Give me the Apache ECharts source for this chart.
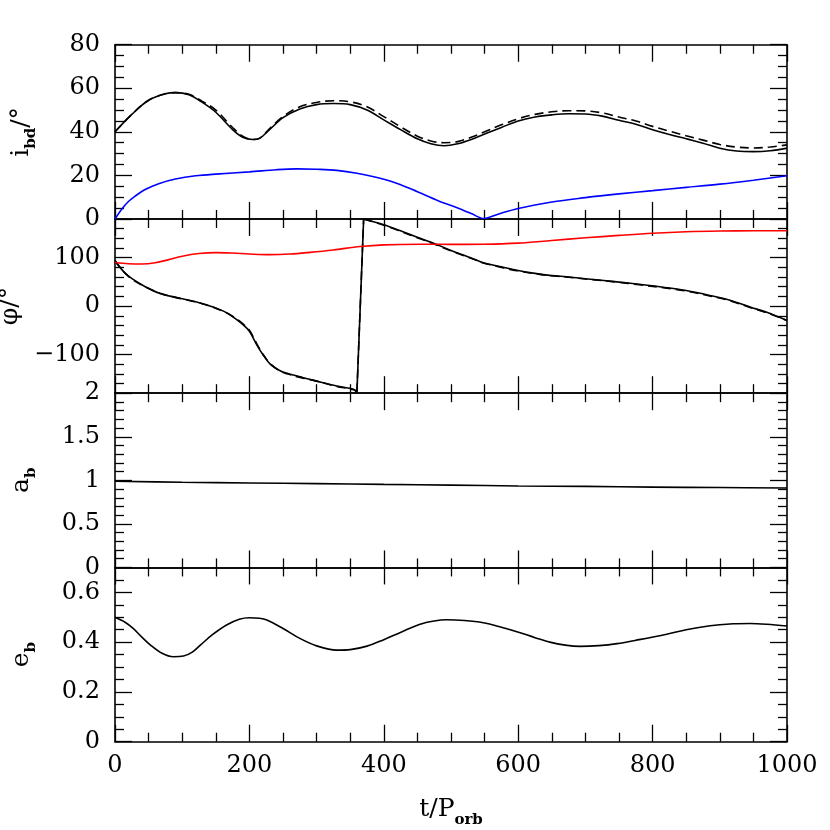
<!DOCTYPE html>
<html><head><meta charset="utf-8">
<script src="https://cdn.jsdelivr.net/npm/echarts@6/dist/echarts.min.js"></script>
<style>html,body{margin:0;padding:0;background:#fff}#c{width:830px;height:830px}</style>
</head><body><div id="c"></div>
<script>
// ---------- data ----------
const inclT      = [0,25,50,75,90,110,130,150,175,190,205,215,230,250,275,300,325,350,375,400,425,450,470,490,510,530,550,575,600,625,650,675,700,725,750,775,800,825,850,875,900,925,950,975,1000];
const inclSolid  = [40,48,54.5,57.5,58,57,53.5,49,41,37.5,36.5,37,41,46.5,50.5,52.5,53,52.5,50,45.5,41,36.8,34.5,33.6,34.5,36.5,39,42,45,46.8,47.8,48.3,48.2,47.2,45.3,43.5,41,38.8,36.8,34.8,32.5,31.2,30.9,31.3,32.5];
const inclDashed = [40,48,54.5,57.5,58,57.2,54,50,42,38,36.5,37,41.5,47,51.5,53.5,54.3,53.8,51.5,47,42.3,38,35.8,35,35.5,37.5,40,43.2,46,48,49.2,49.7,49.6,48.7,46.8,45,42.5,40.3,38.2,36.2,34.2,33,32.6,33,34];
const blueT      = [0,10,20,30,45,65,90,120,150,200,240,270,300,330,360,390,420,450,480,510,530,549,570,600,650,700,750,800,850,900,950,1000];
const blueIncl   = [0,4.5,8,10.5,13.5,16.2,18.3,19.8,20.6,21.6,22.6,23,22.8,22.3,21,19,16.3,12.5,8.5,5,2.5,0.2,2.2,4.8,7.8,9.8,11.5,13,14.5,16,17.8,19.8];

const redT       = [0,20,40,60,80,100,125,150,175,200,230,260,290,325,365,400,454,500,548,600,650,700,750,800,850,900,950,1000];
const redPhi     = [90,87.5,86.8,89.5,96,103,108.5,110.5,109.5,107.6,106.2,107.5,111,116,123,126.5,127.8,127.5,127.8,130,135.5,141,146,150.5,153.5,155,155.5,155.6];
const phiT       = [0,5,15,27,45,67,90,107,130,146,165,176,190,200,211,220,231,245,256,280,300,330,355,360,370,400,424,454,474,500,525,543,548,575,598,625,650,672,700,747,780,821,850,885,915,945,970,1000];
const phiSolid   = [92,84,68,55,40,26,18,13,5,-2,-13,-23,-38,-52,-80,-100,-120,-133,-139,-148,-155,-165,-172,-178,180,168,156,140,130,115,102,92,89.6,81,74,67.5,63,60.4,56.5,50,45,38,32,22,12,-2,-13,-30];
const phiDashed  = [95,85,68,54,40,26.5,18,12.5,5,-2.5,-13,-22,-36,-50,-78,-99,-119,-134,-140,-149,-155,-166,-173,-178,180,167,155,139,129,114,101,92,89,80,73,67,62.5,60,56,49.5,44,37,31,21,11,-3,-14,-30];

const abT        = [0,100,200,300,400,500,600,700,800,900,1000];
const abVal      = [0.99,0.978,0.97,0.962,0.953,0.945,0.935,0.93,0.922,0.917,0.912];

const ebT        = [0,15,27,40,52,70,87,102,115,127,145,166,185,200,215,226,250,275,300,330,350,375,400,424,454,475,493,520,548,575,598,625,647,670,692,720,747,780,821,850,871,900,920,945,970,1000];
const ebVal      = [0.50,0.48,0.455,0.42,0.39,0.355,0.341,0.344,0.36,0.388,0.43,0.469,0.492,0.498,0.496,0.489,0.455,0.415,0.385,0.368,0.37,0.384,0.41,0.438,0.472,0.485,0.49,0.487,0.478,0.46,0.442,0.418,0.40,0.388,0.383,0.386,0.394,0.41,0.432,0.45,0.46,0.47,0.474,0.475,0.472,0.465];

// ---------- ticks / labels ----------
const xMajor = [0,200,400,600,800,1000];
const xMinor = [50,100,150,250,300,350,450,500,550,650,700,750,850,900,950];
const inclMajor = [0,20,40,60,80];
const inclMinor = [5,10,15,25,30,35,45,50,55,65,70,75];
const phiMajor  = [-100,0,100];
const phiMinor  = [-160,-140,-120,-80,-60,-40,-20,20,40,60,80,120,140,160];
const abMajor   = [0,0.5,1,1.5,2];
const abMinor   = [0.1,0.2,0.3,0.4,0.6,0.7,0.8,0.9,1.1,1.2,1.3,1.4,1.6,1.7,1.8,1.9];
const ebMajor   = [0,0.2,0.4,0.6];
const ebMinor   = [0.05,0.1,0.15,0.25,0.3,0.35,0.45,0.5,0.55,0.65];

const FONT = 'DejaVu Serif';
const panels = [
  {min:0, max:80, major:inclMajor, minor:inclMinor, name:'{m|i}{s|bd}{m|/°}'},
  {min:-180, max:180, major:phiMajor, minor:phiMinor, name:'{m|φ/°}'},
  {min:0, max:2, major:abMajor, minor:abMinor, name:'{m|a}{s|b}'},
  {min:0, max:0.7, major:ebMajor, minor:ebMinor, name:'{m|e}{s|b}'}
];
const TOP = 44.7, H = 174.25;
const MAJ = 17, MIN = 9;
const rich = {
  m:{fontFamily:FONT, fontSize:25, lineHeight:36, color:'#000'},
  s:{fontFamily:FONT, fontSize:15, fontWeight:'bold', lineHeight:15, verticalAlign:'bottom', color:'#000'}
};
const fmtY = v => (v < 0 ? '\u2212' + (-v) : String(v));

const grids = [], xAxes = [], yAxes = [], series = [];
panels.forEach((p, g) => {
  grids.push({left:115, right:43, top:TOP + g*H, height:H, outerBoundsMode:'none', containLabel:false});
  const last = g === panels.length - 1;
  const mkX = (pos, vals, len, main) => ({
    type:'value', gridIndex:g, position:pos, min:0, max:1000,
    axisLine:{show:main, onZero:false, lineStyle:{color:'#000', width:1.6}},
    axisTick:{show:true, inside:true, length:len, customValues:vals, lineStyle:{color:'#000', width:1.3}},
    axisLabel:(main && pos==='bottom' && last) ? {show:true, customValues:xMajor, formatter:v => String(v), margin:12, fontFamily:FONT, fontSize:24, color:'#000'} : {show:false},
    splitLine:{show:false},
    name:(main && pos==='bottom' && last) ? '{m|t/P}{s|orb}' : '',
    nameLocation:'middle', nameGap:50, nameTextStyle:{rich:rich}
  });
  const mkY = (pos, vals, len, main) => ({
    type:'value', gridIndex:g, position:pos, min:p.min, max:p.max,
    axisLine:{show:main, onZero:false, lineStyle:{color:'#000', width:1.6}},
    axisTick:{show:true, inside:true, length:len, customValues:vals, lineStyle:{color:'#000', width:1.3}},
    axisLabel:(main && pos==='left') ? {show:true, customValues:p.major, formatter:fmtY, margin:15, fontFamily:FONT, fontSize:24, color:'#000'} : {show:false},
    splitLine:{show:false},
    name:(main && pos==='left') ? p.name : '',
    nameLocation:'middle', nameGap:76, nameRotate:90, nameTextStyle:{rich:rich}
  });
  const xi = xAxes.length, yi = yAxes.length;
  xAxes.push(mkX('bottom', xMajor, MAJ, true), mkX('bottom', xMinor, MIN, false),
             mkX('top', xMajor, MAJ, true), mkX('top', xMinor, MIN, false));
  yAxes.push(mkY('left', p.major, MAJ, true), mkY('left', p.minor, MIN, false),
             mkY('right', p.major, MAJ, true), mkY('right', p.minor, MIN, false));
  p.xi = xi; p.yi = yi;
});

const pairs = (ts, vs) => ts.map((t, i) => [t, vs[i]]);
const line = (g, data, color, dashed, smooth) => ({
  type:'line', xAxisIndex:panels[g].xi, yAxisIndex:panels[g].yi, data:data,
  showSymbol:false, smooth:smooth, clip:true, silent:true, animation:false,
  lineStyle:{color:color, width:1.6, type: dashed ? [9,5] : 'solid'}, z: dashed ? 2 : 3
});
// split a wrapped phase series at its jump so the curve pieces are smoothed separately
function splitJump(ts, vs) {
  const d = pairs(ts, vs);
  for (let i = 1; i < d.length; i++) {
    if (Math.abs(d[i][1] - d[i-1][1]) > 180) return [d.slice(0, i), [d[i-1], d[i]], d.slice(i)];
  }
  return [d];
}
series.push(
  line(0, pairs(inclT, inclDashed), '#000', true, 0.35),
  line(0, pairs(inclT, inclSolid), '#000', false, 0.35),
  line(0, pairs(blueT, blueIncl), '#0000ff', false, 0.35)
);
splitJump(phiT, phiDashed).forEach((seg, k) => series.push(line(1, seg, '#000', true, k === 1 ? false : 0.35)));
splitJump(phiT, phiSolid).forEach((seg, k) => series.push(line(1, seg, '#000', false, k === 1 ? false : 0.35)));
series.push(
  line(1, pairs(redT, redPhi), '#ff0000', false, 0.35),
  line(2, pairs(abT, abVal), '#000', false, 0.35),
  line(3, pairs(ebT, ebVal), '#000', false, 0.35)
);

const chart = echarts.init(document.getElementById('c'), null, {renderer:'canvas'});
chart.setOption({animation:false, backgroundColor:'#fff', grid:grids, xAxis:xAxes, yAxis:yAxes, series:series});
</script></body></html>
